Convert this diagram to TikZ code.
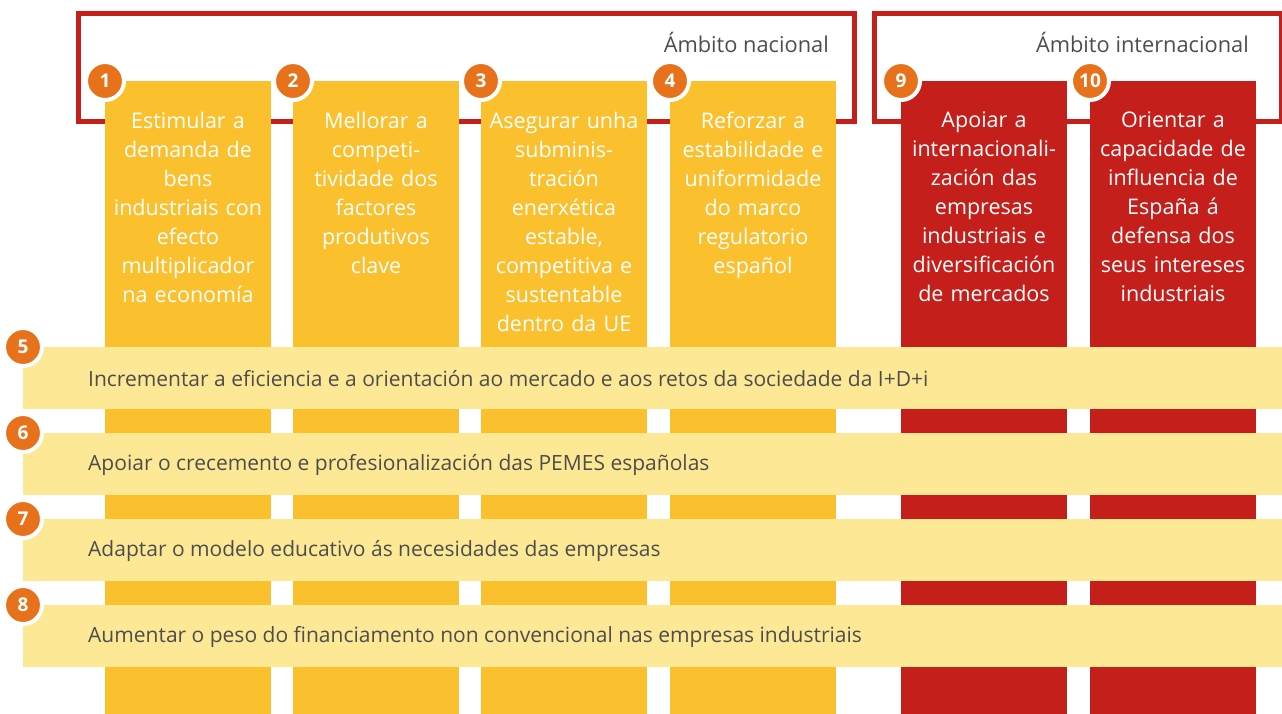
\documentclass[tikz,border=0pt]{standalone}
\usepackage{fontspec}
\setmainfont{Open Sans}
\definecolor{colyel}{HTML}{FBC02E}
\definecolor{bandyel}{HTML}{FDE995}
\definecolor{myred}{HTML}{C41F1A}
\definecolor{numor}{HTML}{E8711B}
\definecolor{txtgray}{HTML}{4D4D4D}
\begin{document}
\begin{tikzpicture}[x=1pt,y=-1pt,
  colbox/.style={anchor=north west,minimum width=166pt,minimum height=640pt,inner sep=0pt,outer sep=0pt},
  coltext/.style={anchor=north,align=center,text width=170pt,inner sep=0pt,text=white,font=\fontsize{21.5}{29}\selectfont},
  bandbox/.style={anchor=north west,fill=bandyel,minimum width=1270pt,minimum height=62pt,inner sep=0pt,outer sep=0pt},
  bandtext/.style={anchor=west,inner sep=0pt,text=txtgray,font=\fontsize{21}{25}\selectfont},
  numc/.style={circle,fill=numor,draw=white,line width=4pt,minimum size=38pt,inner sep=0pt,text=white,font=\bfseries\fontsize{19}{19}\selectfont},
  scopebox/.style={draw=myred,line width=5pt},
  scopelabel/.style={anchor=east,inner sep=0pt,text=txtgray,font=\fontsize{21.8}{26}\selectfont}]
\useasboundingbox (0,0) rectangle (1282,713);
\clip (0,0) rectangle (1282,713);
% scope frames
\draw[scopebox] (78.5,13) rectangle (854.5,121.5);
\draw[scopebox] (874.5,13) rectangle (1281,121.5);
\node[scopelabel] (lnat) at (829,42) {Ámbito nacional};
\node[scopelabel] (lint) at (1249,42) {Ámbito internacional};
% columns
\node[colbox,fill=colyel] (c1) at (105,81) {};
\node[colbox,fill=colyel] (c2) at (293,81) {};
\node[colbox,fill=colyel] (c3) at (481,81) {};
\node[colbox,fill=colyel] (c4) at (670,81) {};
\node[colbox,fill=myred] (c9) at (901,81) {};
\node[colbox,fill=myred] (c10) at (1090,81) {};
\node[coltext] (t1) at (188,112) {Estimular a\\demanda de\\bens\\industriais con\\efecto\\multiplicador\\na economía};
\node[coltext] (t2) at (376,112) {Mellorar a\\competi-\\tividade dos\\factores\\produtivos\\clave};
\node[coltext] (t3) at (564,112) {Asegurar unha\\subminis-\\tración\\enerxética\\estable,\\competitiva e\\sustentable\\dentro da UE};
\node[coltext] (t4) at (753,112) {Reforzar a\\estabilidade e\\uniformidade\\do marco\\regulatorio\\español};
\node[coltext] (t9) at (984,112) {Apoiar a\\internacionali-\\zación das\\empresas\\industriais e\\diversificación\\de mercados};
\node[coltext] (t10) at (1173,112) {Orientar a\\capacidade de\\influencia de\\España á\\defensa dos\\seus intereses\\industriais};
% bands
\node[bandbox] (b5) at (23,347) {};
\node[bandbox] (b6) at (23,433) {};
\node[bandbox] (b7) at (23,519) {};
\node[bandbox] (b8) at (23,605) {};
\node[bandtext] (bt5) at (88,379) {Incrementar a eficiencia e a orientación ao mercado e aos retos da sociedade da I+D+i};
\node[bandtext] (bt6) at (88,465) {Apoiar o crecemento e profesionalización das PEMES españolas};
\node[bandtext] (bt7) at (88,551) {Adaptar o modelo educativo ás necesidades das empresas};
\node[bandtext] (bt8) at (88,637) {Aumentar o peso do financiamento non convencional nas empresas industriais};
% numbers
\node[numc] (n1) at (c1.north west) {1};
\node[numc] (n2) at (c2.north west) {2};
\node[numc] (n3) at (c3.north west) {3};
\node[numc] (n4) at (c4.north west) {4};
\node[numc] (n9) at (c9.north west) {9};
\node[numc] (n10) at (c10.north west) {10};
\node[numc] (n5) at (b5.north west) {5};
\node[numc] (n6) at (b6.north west) {6};
\node[numc] (n7) at (b7.north west) {7};
\node[numc] (n8) at (b8.north west) {8};
\end{tikzpicture}
\end{document}
